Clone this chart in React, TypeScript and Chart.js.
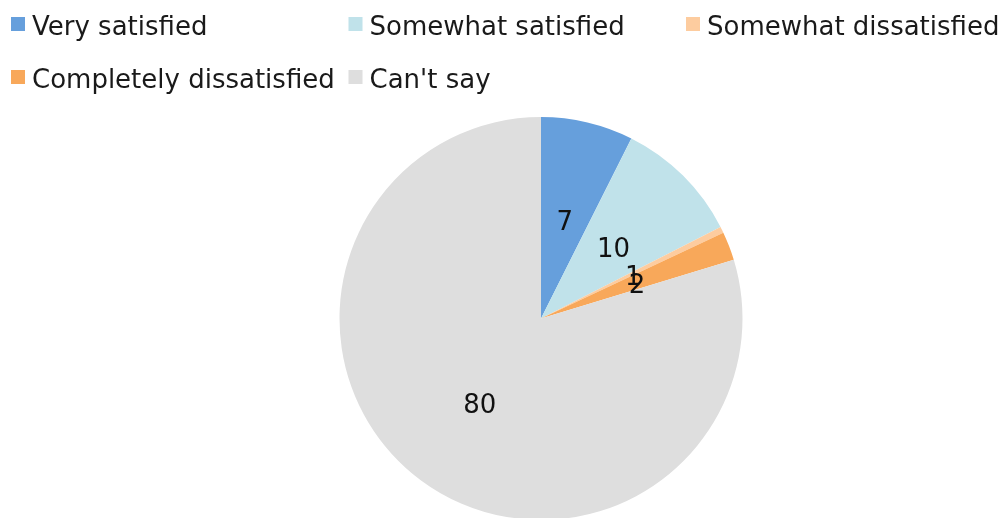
import React, { useEffect, useRef } from "react";
import { Chart, registerables } from "chart.js";

Chart.register(...registerables);

const categories = [
  "Very satisfied",
  "Somewhat satisfied",
  "Somewhat dissatisfied",
  "Completely dissatisfied",
  "Can't say",
];
const values = [7.4, 10.1, 0.5, 2.3, 79.7];
const colors = ["#669fdc", "#c0e2ea", "#fdcc9f", "#f8a85a", "#dedede"];

const FONT = "'DejaVu Sans', Verdana, sans-serif";

const gridLegend = {
  id: "gridLegend",
  afterDraw(chart: any) {
    const ctx = chart.ctx;
    const labels = chart.data.labels as string[];
    const bg = chart.data.datasets[0].backgroundColor as string[];
    ctx.save();
    ctx.font = `26px ${FONT}`;
    ctx.textBaseline = "alphabetic";
    ctx.textAlign = "left";
    labels.forEach((lab, i) => {
      const col = i % 3;
      const row = Math.floor(i / 3);
      const x = 11 + col * 337.5;
      const yTop = 17 + row * 53;
      ctx.fillStyle = bg[i];
      ctx.fillRect(x, yTop, 14, 14);
      ctx.fillStyle = "#1a1a1a";
      ctx.fillText(lab, x + 21, yTop + 18);
    });
    ctx.restore();
  },
};

const sliceLabels = {
  id: "sliceLabels",
  afterDatasetsDraw(chart: any) {
    const ctx = chart.ctx;
    const meta = chart.getDatasetMeta(0);
    const data = chart.data.datasets[0].data as number[];
    ctx.save();
    ctx.font = `26px ${FONT}`;
    ctx.fillStyle = "#111";
    ctx.textAlign = "center";
    ctx.textBaseline = "middle";
    meta.data.forEach((arc: any, i: number) => {
      const { x, y, startAngle, endAngle, outerRadius } = arc.getProps(
        ["x", "y", "startAngle", "endAngle", "outerRadius"],
        true
      );
      const mid = (startAngle + endAngle) / 2;
      const r = outerRadius * 0.51;
      ctx.fillText(
        String(Math.round(data[i])),
        x + Math.cos(mid) * r,
        y + Math.sin(mid) * r + 5
      );
    });
    ctx.restore();
  },
};

export default function App() {
  const ref = useRef<HTMLCanvasElement>(null);
  useEffect(() => {
    document.body.style.margin = "0";
    const chart = new Chart(ref.current!, {
      type: "pie",
      data: {
        labels: categories,
        datasets: [
          {
            data: values,
            backgroundColor: colors,
            borderWidth: 0,
          },
        ],
      },
      options: {
        animation: false,
        responsive: false,
        layout: { padding: { top: 117, left: 75, bottom: 0, right: 0 } },
        plugins: {
          legend: { display: false },
          tooltip: { enabled: false },
        },
      },
      plugins: [gridLegend, sliceLabels],
    });
    return () => chart.destroy();
  }, []);
  return (
    <div style={{ width: 1007, height: 518, overflow: "hidden", background: "#fff" }}>
      <canvas ref={ref} width={1007} height={520} style={{ display: "block" }} />
    </div>
  );
}
